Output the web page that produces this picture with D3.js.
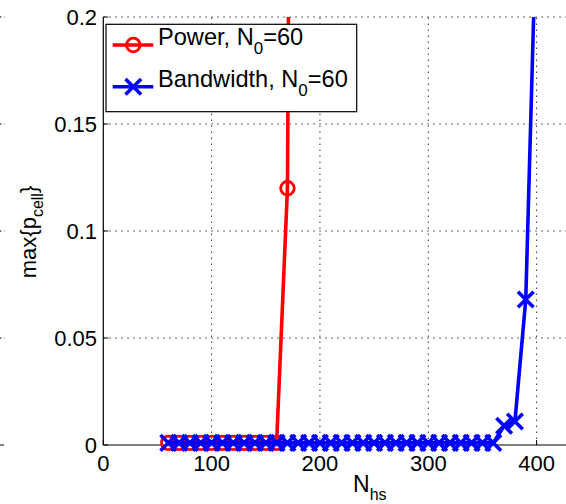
<!DOCTYPE html>
<html><head><meta charset="utf-8">
<script src="https://d3js.org/d3.v7.min.js"></script>
<style>body{margin:0;background:#fff}svg{display:block}text{font-family:"Liberation Sans",Arial,sans-serif}</style>
</head><body><svg id="c" width="566" height="504"></svg>
<script>
// Data
const powerN = [60,70,80,90,100,110,120,130,140,150,160,170,180];
const powerP = [0.001,0.001,0.001,0.001,0.001,0.001,0.001,0.001,0.001,0.001,0.001,0.12,1.0];
const bwN = [60,70,80,90,100,110,120,130,140,150,160,170,180,190,200,210,220,230,240,250,260,270,280,290,300,310,320,330,340,350,360,370,380,390,400];
const bwP = [0.001,0.001,0.001,0.001,0.001,0.001,0.001,0.001,0.001,0.001,0.001,0.001,0.001,0.001,0.001,0.001,0.001,0.001,0.001,0.001,0.001,0.001,0.001,0.001,0.001,0.001,0.001,0.001,0.001,0.001,0.001,0.009,0.011,0.068,0.25];
const xTicks = [0,100,200,300,400];
const yTicks = [0,0.05,0.1,0.15,0.2];
const yTickLabels = ["0","0.05","0.1","0.15","0.2"];
const legendLabels = [["Power, N","0","=60"],["Bandwidth, N","0","=60"]];

(function(){
const svg = d3.select("#c");
const x = d3.scaleLinear().domain([0,400]).range([103.3,536.6]);
const y = d3.scaleLinear().domain([0,0.2]).range([445,17]);
const pL = x(0), pB = y(0), pT = y(0.2), pR = 566;

// remnants of neighbouring subplot at far left
yTicks.forEach(t=>{
  svg.append("line").attr("x1",0).attr("x2",t===0?4:5).attr("y1",y(t)).attr("y2",y(t))
    .attr("stroke","#000").attr("stroke-width",1).attr("stroke-dasharray",t===0?null:"1.5,3");
});

// grid
const grid = svg.append("g").attr("stroke","#333").attr("stroke-width",1).attr("stroke-dasharray","1.5,4.5");
xTicks.filter(t=>t>0).forEach(t=>grid.append("line").attr("x1",x(t)).attr("x2",x(t)).attr("y1",pB).attr("y2",pT));
yTicks.filter(t=>t>0).forEach(t=>grid.append("line").attr("x1",pL).attr("x2",pR).attr("y1",y(t)).attr("y2",y(t)));

// axes lines
svg.append("line").attr("x1",pL).attr("x2",pR).attr("y1",pB).attr("y2",pB).attr("stroke","#000").attr("stroke-width",1.2);
svg.append("line").attr("x1",pL).attr("x2",pL).attr("y1",pB).attr("y2",pT).attr("stroke","#000").attr("stroke-width",1.2);
// inward ticks
xTicks.forEach(t=>svg.append("line").attr("x1",x(t)).attr("x2",x(t)).attr("y1",pB).attr("y2",pB-5).attr("stroke","#000"));
yTicks.forEach(t=>svg.append("line").attr("x1",pL).attr("x2",pL+5).attr("y1",y(t)).attr("y2",y(t)).attr("stroke","#000"));

// tick labels
xTicks.forEach(t=>svg.append("text").attr("x",x(t)).attr("y",471).attr("text-anchor","middle").attr("font-size",22).text(t));
yTicks.forEach((t,i)=>svg.append("text").attr("x",97).attr("y",y(t)+8).attr("text-anchor","end").attr("font-size",22).text(yTickLabels[i]));

// axis labels
const xl = svg.append("text").attr("x",353).attr("y",492).attr("font-size",23);
xl.append("tspan").text("N");
xl.append("tspan").attr("dy",8).attr("font-size",16).text("hs");
const yl = svg.append("text").attr("transform","translate(36,232) rotate(-90)").attr("text-anchor","middle").attr("font-size",22);
yl.append("tspan").text("max{p");
yl.append("tspan").attr("dy",7).attr("font-size",16).text("cell");
yl.append("tspan").attr("dy",-7).text("}");

// clip
svg.append("defs").append("clipPath").attr("id","clip").append("rect").attr("x",pL).attr("y",pT).attr("width",pR-pL).attr("height",pB-pT+20);
const plot = svg.append("g").attr("clip-path","url(#clip)");
const line = d3.line().x(d=>x(d[0])).y(d=>y(d[1]));
const pData = powerN.map((n,i)=>[n,powerP[i]]);
const bData = bwN.map((n,i)=>[n,bwP[i]]);

function circle(g,cx,cy){g.append("circle").attr("cx",cx).attr("cy",cy).attr("r",6.8).attr("fill","none").attr("stroke","#f00").attr("stroke-width",2.8);}
function cross(g,cx,cy){const s=7.8;g.append("path").attr("d",`M${cx-s},${cy-s}L${cx+s},${cy+s}M${cx-s},${cy+s}L${cx+s},${cy-s}`).attr("stroke","#00f").attr("stroke-width",3.6).attr("fill","none");}

plot.append("path").datum(pData).attr("d",line).attr("fill","none").attr("stroke","#f00").attr("stroke-width",3.6);
pData.forEach(d=>circle(plot,x(d[0]),y(d[1])));
plot.append("path").datum(bData).attr("d",line).attr("fill","none").attr("stroke","#00f").attr("stroke-width",3.6);
bData.forEach(d=>cross(plot,x(d[0]),y(d[1])));

// legend
const lg = svg.append("g");
lg.append("rect").attr("x",106).attr("y",24.3).attr("width",250.7).attr("height",87.4).attr("fill","#fff").attr("stroke","#000").attr("stroke-width",1.2);
const ly = [45,86.7];
const colors = ["#f00","#00f"];
ly.forEach((yy,i)=>{
  lg.append("line").attr("x1",112.7).attr("x2",153.3).attr("y1",yy).attr("y2",yy).attr("stroke",colors[i]).attr("stroke-width",3.6);
  if(i===0) circle(lg,133.3,yy); else cross(lg,133.3,yy);
  const t = lg.append("text").attr("x",158).attr("y",yy).attr("font-size",23.6);
  t.append("tspan").text(legendLabels[i][0]);
  t.append("tspan").attr("dy",9).attr("font-size",17).text(legendLabels[i][1]);
  t.append("tspan").attr("dy",-9).text(legendLabels[i][2]);
});
})();
</script></body></html>
